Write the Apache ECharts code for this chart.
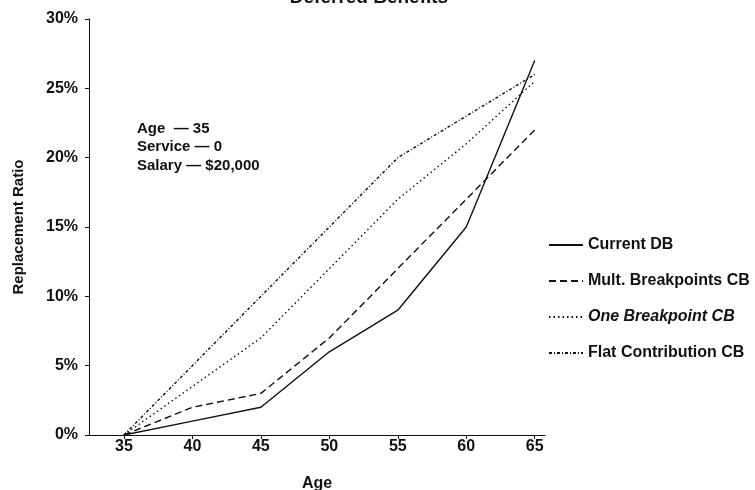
<!DOCTYPE html>
<html>
<head>
<meta charset="utf-8">
<script src="https://cdn.jsdelivr.net/npm/echarts@6/dist/echarts.min.js"></script>
<style>
  html, body { margin: 0; padding: 0; background: #fff; }
  #main { width: 755px; height: 490px; }
</style>
</head>
<body>
<div id="main"></div>
<script>
// ages on the x axis
const ages = [35, 40, 45, 50, 55, 60, 65];
const ageTicks = [35, 40, 45, 50, 55, 60, 65];

// replacement ratio (%) per plan
const currentDB = [0, 1, 2, 6, 9, 15, 27];
const multBreakpoints = [0, 2, 3, 7, 12, 17, 22];
const oneBreakpoint = [0, 3.5, 7, 12, 17, 21, 25.5];
const flatContribution = [0, 5, 10, 15, 20, 23, 26];

const seriesNames = ['Current DB', 'Mult. Breakpoints CB', 'One Breakpoint CB', 'Flat Contribution CB'];
const notes = ['Age  \u2014 35', 'Service \u2014 0', 'Salary \u2014 $20,000'];

const font = 'Liberation Sans, Arial, Helvetica, sans-serif';

function pairs(vals) {
    return ages.map((a, i) => [a, vals[i]]);
}

function lineSeries(name, vals, type) {
    return {
        name: name,
        type: 'line',
        data: pairs(vals),
        symbol: 'none',
        itemStyle: { color: '#111' },
        lineStyle: { color: '#111', width: 1.4, type: type }
    };
}

var chartDom = document.getElementById('main');
var myChart = echarts.init(chartDom);
var option;

option = {
    backgroundColor: '#fff',
    animation: false,
    title: {
        text: 'Deferred Benefits',
        left: 364,
        textAlign: 'center',
        top: -17,
        textStyle: { fontFamily: font, fontSize: 19, fontWeight: 'bold', color: '#111' }
    },
    grid: { left: 89, right: 210, top: 19, bottom: 55, outerBoundsMode: 'none' },
    xAxis: {
        type: 'value',
        min: 32.45,
        max: 65.75,
        name: 'Age',
        nameLocation: 'middle',
        nameGap: 41,
        nameTextStyle: { fontFamily: font, fontSize: 16, fontWeight: 'bold', color: '#111' },
        axisLine: { lineStyle: { color: '#111', width: 1 } },
        axisTick: { customValues: ageTicks, length: 4, lineStyle: { color: '#111' } },
        axisLabel: { customValues: ageTicks, fontFamily: font, fontSize: 16, fontWeight: 'bold', color: '#111', margin: 4 },
        splitLine: { show: false }
    },
    yAxis: {
        type: 'value',
        min: 0,
        max: 30,
        interval: 5,
        name: 'Replacement Ratio',
        nameLocation: 'middle',
        nameGap: 63,
        nameTextStyle: { fontFamily: font, fontSize: 15, fontWeight: 'bold', color: '#111' },
        axisLine: { show: true, lineStyle: { color: '#111', width: 1 } },
        axisTick: { show: true, length: 4, lineStyle: { color: '#111' } },
        axisLabel: { formatter: '{value}%', fontFamily: font, fontSize: 16, fontWeight: 'bold', color: '#111', margin: 11 },
        splitLine: { show: false }
    },
    legend: {
        orient: 'vertical',
        left: 543,
        top: 232,
        itemWidth: 34,
        itemHeight: 16,
        itemGap: 20,
        itemStyle: { opacity: 0 },
        textStyle: { fontFamily: font, fontSize: 16, fontWeight: 'bold', color: '#111', lineHeight: 16 },
        data: [
            { name: seriesNames[0] },
            { name: seriesNames[1] },
            { name: seriesNames[2], textStyle: { fontStyle: 'italic' } },
            { name: seriesNames[3] }
        ]
    },
    graphic: notes.map((t, i) => ({
        type: 'text',
        left: 137,
        top: 121 + i * 18.5,
        style: { text: t, fontFamily: font, fontSize: 15, fontWeight: 'bold', fill: '#111' }
    })),
    series: [
        lineSeries(seriesNames[0], currentDB, 'solid'),
        lineSeries(seriesNames[1], multBreakpoints, [7, 4]),
        lineSeries(seriesNames[2], oneBreakpoint, [1.5, 3]),
        lineSeries(seriesNames[3], flatContribution, [3, 2, 1, 2])
    ]
};

option && myChart.setOption(option);
</script>
</body>
</html>
